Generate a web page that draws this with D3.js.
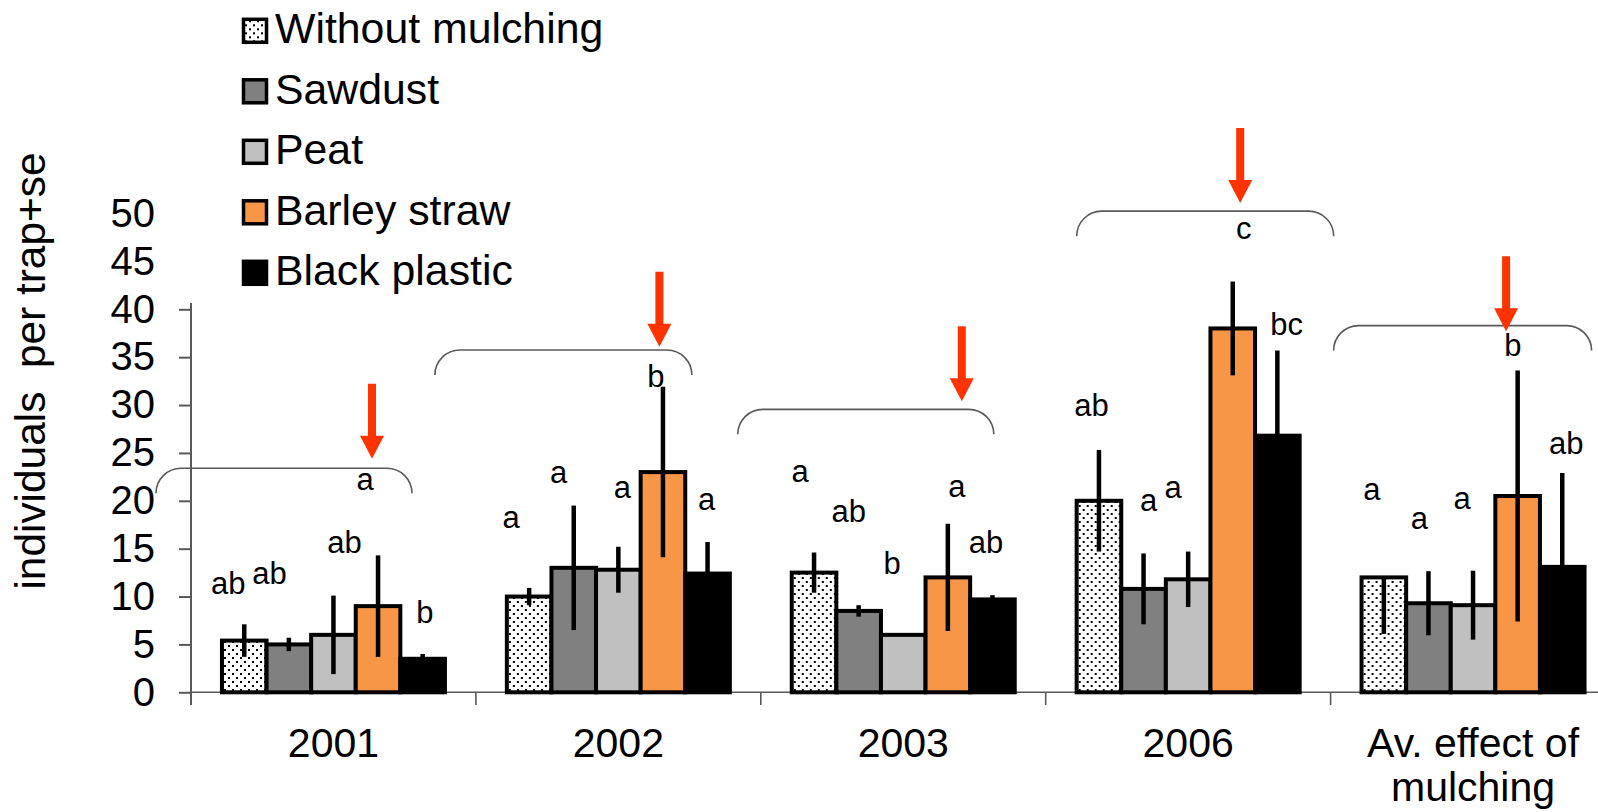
<!DOCTYPE html>
<html>
<head>
<meta charset="utf-8">
<script src="https://cdn.jsdelivr.net/npm/d3@7"></script>
<style>
  html, body { margin: 0; padding: 0; background: #fff; }
  svg { display: block; }
  text { font-family: "Liberation Sans", Arial, Helvetica, sans-serif; fill: #000; }
</style>
</head>
<body>
<svg id="chart" width="1598" height="812"></svg>
<script>
// ---- data ----
const categories = ["2001", "2002", "2003", "2006", "Av. effect of mulching"];
const seriesNames = ["Without mulching", "Sawdust", "Peat", "Barley straw", "Black plastic"];

// mean individuals per trap
const withoutMulching = [5.4, 10.0, 12.5, 20.0, 12.0];
const sawdust         = [5.0, 13.0, 8.5, 10.8, 9.3];
const peat            = [6.0, 12.8, 6.0, 11.8, 9.1];
const barleyStraw     = [9.0, 23.0, 12.0, 38.0, 20.5];
const blackPlastic    = [3.5, 12.4, 9.7, 26.8, 13.1];

// standard errors (the average "Without mulching" bar only shows its lower arm)
const seWithoutMulching      = [1.7, 0.9, 2.1, 5.3, 5.9];
const seWithoutMulchingUpper = [1.7, 0.9, 2.1, 5.3, 0];
const seSawdust              = [0.7, 6.5, 0.6, 3.7, 3.35];
const sePeat                 = [4.1, 2.4, 0, 2.9, 3.6];
const seBarleyStraw          = [5.3, 8.9, 5.6, 4.9, 13.1];
const seBlackPlastic         = [0.5, 3.3, 0.45, 8.9, 9.8];

// significance letters per treatment
const lettersWithout = ["ab", "a", "a", "ab", "a"];
const lettersSawdust = ["ab", "a", "ab", "a", "a"];
const lettersPeat    = ["ab", "a", "b", "a", "a"];
const lettersBarley  = ["a", "b", "a", "c", "b"];
const lettersBlack   = ["b", "a", "ab", "bc", "ab"];

const yTicks = [0, 5, 10, 15, 20, 25, 30, 35, 40, 45, 50];

// ---- layout for the annotations ----
// letter baseline level (axis units) and horizontal nudge from the bar centre (px)
const letterLevel = [
  [10.3, 17.2, 22.0, 28.9, 20.1],
  [11.3, 21.9, 17.8, 18.9, 17.1],
  [14.5, 20.3, 12.4, 20.3, 19.1],
  [21.1, 31.9, 20.4, 47.3, 35.1],
  [7.2, 19.0, 14.6, 37.3, 24.9]
];
const letterNudge = [
  [-16, -18, -14, -7.5, -12],
  [-19.4, -15, -10, 5, -9],
  [11, 4, -11, -15, -11],
  [-13, -7, 9, 11, -4.7],
  [2.3, -1, -6.5, 9.4, 4]
];
// group brackets: level (axis units) and horizontal extent from the band start (px)
const bracketLevel = [23.4, 35.75, 29.55, 50.25, 38.3];
const bracketFrom  = [-35, -41, -23, 31, 3];
const bracketTo    = [221, 216, 233, 288, 261];
// red arrows: tip level (axis units) and position from the band start (px)
const arrowTip = [24.4, 36.1, 30.4, 51.1, 37.7];
const arrowAt  = [181, 183.5, 201, 194.5, 175.5];

const seriesValues = [withoutMulching, sawdust, peat, barleyStraw, blackPlastic];
const seriesSeUp   = [seWithoutMulchingUpper, seSawdust, sePeat, seBarleyStraw, seBlackPlastic];
const seriesSeDown = [seWithoutMulching, seSawdust, sePeat, seBarleyStraw, seBlackPlastic];
const seriesLetters = [lettersWithout, lettersSawdust, lettersPeat, lettersBarley, lettersBlack];
const seriesFill = ["url(#dots)", "#808080", "#c0c0c0", "#f79646", "#000000"];

// ---- scales ----
const svg = d3.select("#chart");
const axisLeftX = 191, baseY = 692.3, step = 284.9;

const x0 = d3.scaleBand().domain(categories).range([axisLeftX, axisLeftX + step * categories.length]);
const x1 = d3.scaleBand().domain(seriesNames).range([0, x0.bandwidth()]).paddingInner(0).paddingOuter(0.694);
const y = d3.scaleLinear().domain([0, 50]).range([baseY, baseY - 50 * 9.575]);

// dotted fill for untreated plots
const defs = svg.append("defs");
const pat = defs.append("pattern").attr("id", "dots").attr("patternUnits", "userSpaceOnUse")
  .attr("width", 8).attr("height", 8);
pat.append("rect").attr("width", 8).attr("height", 8).attr("fill", "#fff");
pat.append("rect").attr("x", 1).attr("y", 1).attr("width", 2).attr("height", 2).attr("fill", "#000");
pat.append("rect").attr("x", 5).attr("y", 5).attr("width", 2).attr("height", 2).attr("fill", "#000");

// ---- y axis ----
const yAxis = svg.append("g").attr("transform", `translate(${axisLeftX},0)`)
  .call(d3.axisLeft(y).tickValues(yTicks).tickSize(12).tickSizeOuter(0).tickPadding(24));
yAxis.select(".domain").attr("stroke", "#595959").attr("stroke-width", 2)
  .attr("d", `M0,${baseY + 12.7}V${y(50)}`);
yAxis.selectAll(".tick line").attr("stroke", "#595959").attr("stroke-width", 2);
yAxis.selectAll(".tick text").style("font-size", "40px").attr("fill", "#000")
  .style("font-family", "'Liberation Sans', Arial, sans-serif");

// ---- x axis ----
svg.append("line").attr("x1", axisLeftX).attr("x2", 1598).attr("y1", baseY).attr("y2", baseY)
  .attr("stroke", "#595959").attr("stroke-width", 1.6);
svg.append("g").selectAll("line").data(categories.slice(1)).join("line")
  .attr("x1", d => x0(d)).attr("x2", d => x0(d))
  .attr("y1", baseY).attr("y2", baseY + 12.7)
  .attr("stroke", "#595959").attr("stroke-width", 1.6);

const xLabels = svg.append("g").selectAll("text").data(categories).join("text")
  .attr("text-anchor", "middle").style("font-size", "41px")
  .attr("x", d => x0(d) + x0.bandwidth() / 2).attr("y", 757);
xLabels.each(function(d) {
  const t = d3.select(this);
  if (d.startsWith("Av.")) {
    t.append("tspan").attr("x", x0(d) + x0.bandwidth() / 2).attr("dy", 0).text("Av. effect of");
    t.append("tspan").attr("x", x0(d) + x0.bandwidth() / 2).attr("dy", 44).text("mulching");
  } else {
    t.text(d);
  }
});

// y axis title
svg.append("text").attr("transform", "translate(45,371) rotate(-90)")
  .attr("text-anchor", "middle").style("font-size", "42.4px")
  .attr("xml:space", "preserve").style("white-space", "pre")
  .text("individuals  per trap+se");

// ---- bars ----
const groups = svg.append("g").selectAll("g").data(categories).join("g")
  .attr("transform", d => `translate(${x0(d)},0)`);

seriesNames.forEach((s, si) => {
  groups.append("rect")
    .attr("x", x1(s)).attr("width", x1.bandwidth())
    .attr("y", (c, ci) => y(seriesValues[si][ci]))
    .attr("height", (c, ci) => y(0) - y(seriesValues[si][ci]))
    .attr("fill", seriesFill[si]).attr("stroke", "#000").attr("stroke-width", 4);
});

// error bars
seriesNames.forEach((s, si) => {
  groups.append("line")
    .attr("x1", x1(s) + x1.bandwidth() / 2).attr("x2", x1(s) + x1.bandwidth() / 2)
    .attr("y1", (c, ci) => y(seriesValues[si][ci] + seriesSeUp[si][ci]))
    .attr("y2", (c, ci) => y(seriesValues[si][ci] - seriesSeDown[si][ci]))
    .attr("stroke", "#000").attr("stroke-width", 4.5)
    .attr("display", (c, ci) => seriesSeUp[si][ci] + seriesSeDown[si][ci] > 0 ? null : "none");
});

// significance letters
seriesNames.forEach((s, si) => {
  groups.append("text")
    .attr("text-anchor", "middle").style("font-size", "31px")
    .attr("x", (c, ci) => x1(s) + x1.bandwidth() / 2 + letterNudge[si][ci])
    .attr("y", (c, ci) => y(letterLevel[si][ci]))
    .text((c, ci) => seriesLetters[si][ci]);
});

// brackets over each group
const r = 25;
groups.append("path")
  .attr("fill", "none").attr("stroke", "#595959").attr("stroke-width", 1.6)
  .attr("d", (c, ci) => {
    const a = bracketFrom[ci], b = bracketTo[ci], top = y(bracketLevel[ci]);
    return `M${a},${top + r} A${r},${r} 0 0 1 ${a + r},${top} H${b - r} A${r},${r} 0 0 1 ${b},${top + r}`;
  });

// red arrows
groups.append("path")
  .attr("fill", "#ff3300")
  .attr("d", (c, ci) => {
    const cx = arrowAt[ci], tip = y(arrowTip[ci]);
    const len = 75, head = 23, hw = 12, sw = 4;
    return `M${cx - sw},${tip - len} H${cx + sw} V${tip - head} H${cx + hw} L${cx},${tip} L${cx - hw},${tip - head} H${cx - sw} Z`;
  });

// ---- legend (white panel sits over the top of the value axis) ----
const legend = svg.append("g");
legend.append("rect").attr("x", 160).attr("y", 0).attr("width", 480).attr("height", 303).attr("fill", "#fff");
const rows = legend.selectAll("g").data(seriesNames).join("g")
  .attr("transform", (d, i) => `translate(0,${43.3 + i * 60.5})`);
rows.append("rect").attr("x", 243.5).attr("y", -24).attr("width", 23).attr("height", 23)
  .attr("fill", (d, i) => seriesFill[i]).attr("stroke", "#000").attr("stroke-width", 3.5);
rows.append("text").attr("x", 275).attr("y", 0).style("font-size", "42.8px").text(d => d);
</script>
</body>
</html>
